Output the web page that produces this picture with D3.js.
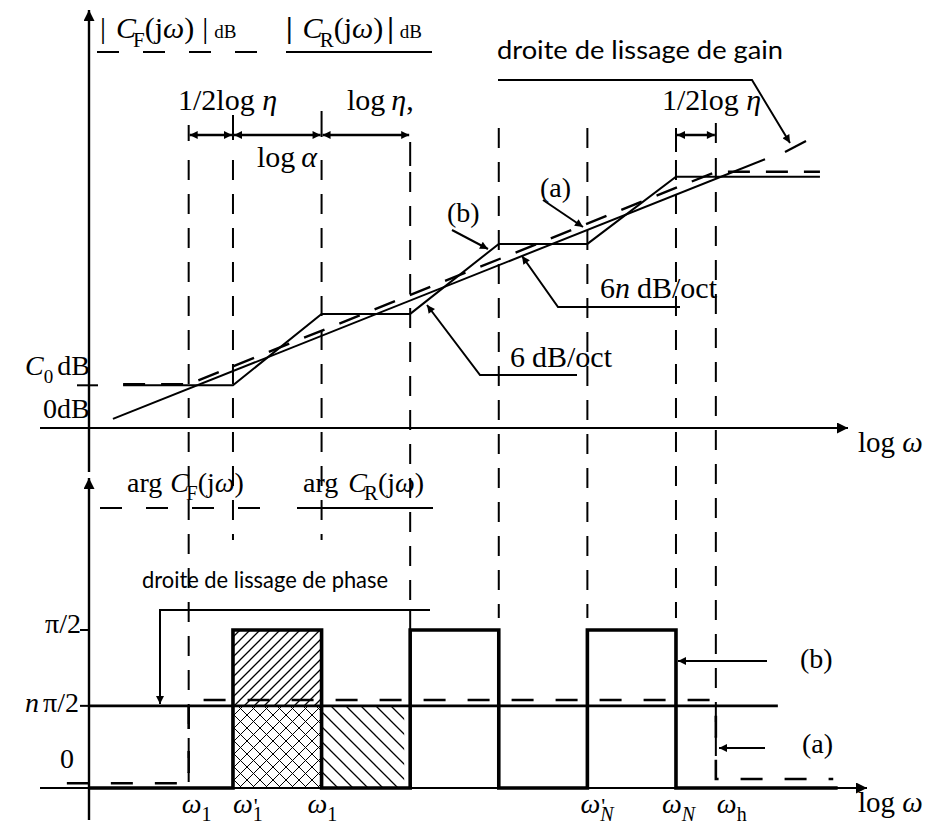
<!DOCTYPE html>
<html><head><meta charset="utf-8">
<script src="https://cdn.jsdelivr.net/npm/d3@7"></script>
<style>body{margin:0;background:#fff}svg{display:block}</style>
</head><body>
<svg id="c" width="931" height="832"></svg>
<script>
// ---------- data (log ω in units of ½·log η, gain in dB-like units, phase in units of π/2)
const breakLogW   = [2.25, 3.25, 5.25, 7.25, 9.25, 11.25, 13.25, 14.15];
const breakLabels = ["ω1", "ω'1", "ω1", "", "", "ω'N", "ωN", "ωh"];
const gainStairB  = [[0.77,6.1],[3.25,6.1],[5.25,16.3],[7.25,16.3],[9.25,26.3],[11.25,26.3],[13.25,35.9],[16.5,35.9]];
const gainSlopeA  = [[0.77,6.25],[2.25,6.25],[14.15,36.6],[16.5,36.6]];
const gainSmooth  = [[0.54,1.3],[15.26,38.4]];
const phaseStairB = [[0,0],[3.25,0],[3.25,1],[5.25,1],[5.25,0],[7.25,0],[7.25,1],[9.25,1],[9.25,0],[11.25,0],[11.25,1],[13.25,1],[13.25,0],[16.9,0]];
const phaseA      = [[-0.5,0.03],[2.25,0.03],[2.25,0.557],[14.15,0.557],[14.15,0.057],[16.8,0.057]];
const phaseSmooth = [[0,0.52],[15.55,0.52]];
const gainC0 = 6.1;
const phaseTicks = [1, 0.52, 0];

const serif = "'Liberation Serif','Times New Roman',serif";
const sans = "Lato,'Open Sans',sans-serif";
const svg = d3.select('#c');

const x  = d3.scaleLinear().domain([0,16]).range([89, 89+16*44.3]);
const yG = d3.scaleLinear().domain([0,40]).range([428,148]);
const yP = d3.scaleLinear().domain([0,1]).range([788,630]);

const defs = svg.append('defs');
function marker(id, w, h){
  defs.append('marker').attr('id',id).attr('viewBox','0 0 10 10').attr('refX',10).attr('refY',5)
    .attr('markerWidth',w).attr('markerHeight',h).attr('markerUnits','userSpaceOnUse')
    .attr('orient','auto-start-reverse')
    .append('path').attr('d','M0,0 L10,5 L0,10 z').attr('fill','#000');
}
marker('axh',18,11); marker('ah',13,8); marker('ahs',11,8);

function pat(id, w, d, sw){
  defs.append('pattern').attr('id',id).attr('patternUnits','userSpaceOnUse').attr('width',w).attr('height',w)
    .append('path').attr('d',d).attr('stroke','#000').attr('stroke-width',sw).attr('fill','none');
}
pat('fwd',10,'M-1,1 L1,-1 M0,10 L10,0 M9,11 L11,9',1.3);
pat('back',15,'M0,0 L15,15 M-1,14 L1,16 M14,-1 L16,1',1.3);
pat('cross',13,'M0,0 L13,13 M0,13 L13,0 M-1,1 L1,-1 M12,14 L14,12 M-1,12 L1,14 M12,-1 L14,1',1);

function line(pts, w, dash){
  const p = svg.append('path').attr('d', d3.line()(pts)).attr('fill','none').attr('stroke','#000')
    .attr('stroke-width', w||2).attr('stroke-linejoin','miter');
  if (dash) p.attr('stroke-dasharray', dash);
  return p;
}
function rich(px, py, parts, fs, fam){
  const t = svg.append('text').attr('x',px).attr('y',py).attr('font-family',fam||serif).attr('font-size',fs).attr('fill','#000');
  let cur = 0;
  parts.forEach(p=>{
    if (typeof p === 'string') p = {t:p};
    const off = p.sub ? fs*0.3 : p.sup ? -fs*0.38 : 0;
    const s = t.append('tspan').text(p.t).attr('dy', off-cur);
    cur = off;
    if (p.i) s.attr('font-style','italic');
    if (p.fs) s.attr('font-size',p.fs);
    if (p.dx!==undefined) s.attr('dx',p.dx);
    if (p.b) s.attr('font-weight','bold');
  });
  return t;
}

// ---------- vertical dashed guide lines
const vSpans = [[160,782],[160,540],[160,540],[172,610],[128,618],[128,618],[160,618],[158,765]];
breakLogW.forEach((v,i)=>{
  line([[x(v),vSpans[i][0]],[x(v),vSpans[i][1]]],2,'20,14');
});

// ---------- gain plot axes
line([[40,yG(0)],[848,yG(0)]],2.2).attr('marker-end','url(#axh)');
line([[89,472],[89,10]],2.4).attr('marker-end','url(#axh)');
line([[77,yG(gainC0)],[98,yG(gainC0)]],2);
rich(858,452,['log ',{t:'ω',i:true}],29);
rich(25,375,[{t:'C',i:true},{t:'0',sub:true,fs:19},{t:'dB',dx:4}],28);
rich(43,418,['0dB'],28);

// ---------- gain curves
const lg = d3.line().x(d=>x(d[0])).y(d=>yG(d[1]));
svg.append('path').attr('d',lg(gainStairB)).attr('fill','none').attr('stroke','#000').attr('stroke-width',2);
svg.append('path').attr('d',lg(gainSmooth)).attr('fill','none').attr('stroke','#000').attr('stroke-width',2);
svg.append('path').attr('d',lg(gainSlopeA)).attr('fill','none').attr('stroke','#000').attr('stroke-width',2.4).attr('stroke-dasharray','22,16');

// ---------- top annotations
rich(100,38,['|',{t:'C',i:true,dx:10},{t:'F',sub:true,fs:21,dx:-3},'(j',{t:'ω',i:true},')',{t:'|',dx:8},{t:'dB',fs:19,dx:6}],30);
line([[97,52],[262,52]],2,'22,24');
rich(286,38,[{t:'|',b:true},{t:'C',i:true,dx:10},{t:'R',sub:true,fs:21,dx:-3},'(j',{t:'ω',i:true},')',{t:'|',b:true,dx:4},{t:'dB',fs:19,dx:6}],30);
line([[286,52],[432,52]],2);

rich(178,110,['1/2log ',{t:'η',i:true}],30);
rich(347,110,['log',{t:'η',i:true,dx:6},','],30);
rich(257,167,['log',{t:'α',i:true,dx:6}],30);
// double arrows
[[0,1],[1,2],[2,3]].forEach(([a,b])=>{
  line([[x(breakLogW[a])+1,135],[x(breakLogW[b])-1,135]],2.6).attr('marker-start','url(#ahs)').attr('marker-end','url(#ahs)');
});
line([[x(breakLogW[0]),125],[x(breakLogW[0]),141]],2);
line([[x(breakLogW[1]),115],[x(breakLogW[1]),140]],2);
line([[x(breakLogW[2]),111],[x(breakLogW[2]),137]],2);
line([[x(breakLogW[3]),142],[x(breakLogW[3]),166]],2);

rich(662,110,['1/2log ',{t:'η',i:true}],30);
line([[x(breakLogW[6])+1,135],[x(breakLogW[7])-1,135]],2.6).attr('marker-start','url(#ahs)').attr('marker-end','url(#ahs)');
line([[x(breakLogW[6]),128],[x(breakLogW[6]),152]],2);
line([[x(breakLogW[7]),123],[x(breakLogW[7]),143]],2);

svg.append('text').attr('x',497).attr('y',59).attr('font-family',sans).attr('font-size',25)
  .attr('textLength',286).attr('lengthAdjust','spacingAndGlyphs').text('droite  de lissage de gain');
line([[498,80],[752,80],[790,143]],2).attr('marker-end','url(#ah)');
line([[785,152],[806,141]],2.2);

rich(447,222,['(b)'],28);
line([[452,230],[488,249]],2).attr('marker-end','url(#ah)');
rich(540,197,['(a)'],28);
line([[543,200],[583,227]],2).attr('marker-end','url(#ah)');
rich(600,298,['6',{t:'n',i:true},{t:'dB/oct',dx:7}],30);
line([[680,307],[558,307],[522,256]],2).attr('marker-end','url(#ah)');
rich(510,367,['6',{t:'dB/oct',dx:7}],30);
line([[577,375],[480,375],[427,305]],2).attr('marker-end','url(#ah)');

// ---------- phase plot
line([[40,yP(0)],[867,yP(0)]],2.2).attr('marker-end','url(#axh)');
line([[89,820],[89,478]],2.4).attr('marker-end','url(#axh)');
rich(858,812,['log ',{t:'ω',i:true}],29);
phaseTicks.forEach((v,i)=>{ if(i<2) line([[80,yP(v)],[89,yP(v)]],2); });
rich(45,yP(phaseTicks[0])+3,['π/2'],28);
rich(25,yP(phaseTicks[1])+6,[{t:'n',i:true},{t:'π/2',dx:4}],28);
rich(60,yP(phaseTicks[2])-20,['0'],28);

// hatching
svg.append('rect').attr('x',x(3.25)).attr('y',yP(1)).attr('width',x(5.25)-x(3.25)).attr('height',yP(0.52)-yP(1)).attr('fill','url(#fwd)');
svg.append('rect').attr('x',x(3.25)).attr('y',yP(0.52)).attr('width',x(5.25)-x(3.25)).attr('height',yP(0)-yP(0.52)).attr('fill','url(#cross)');
svg.append('rect').attr('x',x(5.25)).attr('y',yP(0.52)).attr('width',x(7.25)-x(5.25)-6).attr('height',yP(0)-yP(0.52)).attr('fill','url(#back)');

const lp = d3.line().x(d=>x(d[0])).y(d=>yP(d[1]));
svg.append('path').attr('d',lp(phaseSmooth)).attr('fill','none').attr('stroke','#000').attr('stroke-width',2.6);
svg.append('path').attr('d',lp(phaseA)).attr('fill','none').attr('stroke','#000').attr('stroke-width',2.6).attr('stroke-dasharray','22,22');
svg.append('path').attr('d',lp(phaseStairB)).attr('fill','none').attr('stroke','#000').attr('stroke-width',3.6).attr('stroke-linejoin','miter');

rich(127,492,['arg',{t:'C',i:true,dx:8},{t:'F',sub:true,fs:21,dx:-3},'(j',{t:'ω',i:true},')'],28);
line([[100,508],[262,508]],2,'22,24');
rich(303,492,['arg',{t:'C',i:true,dx:10},{t:'R',sub:true,fs:21,dx:-3},'(j',{t:'ω',i:true},')'],28);
line([[297,508],[433,508]],2);

svg.append('text').attr('x',142).attr('y',588).attr('font-family',sans).attr('font-size',23)
  .attr('textLength',246).attr('lengthAdjust','spacingAndGlyphs').text('droite  de lissage de phase');
line([[430,610],[160,610],[160,704]],2).attr('marker-end','url(#ah)');
line([[x(7.25),610],[x(7.25),630]],2);

rich(800,668,['(b)'],28);
line([[767,661],[678,661]],2).attr('marker-end','url(#ah)');
rich(802,753,['(a)'],28);
line([[765,748],[719,748]],2).attr('marker-end','url(#ah)');

// breakpoint labels
const labOff = [-7,0,-14,0,0,-7,-14,1];
breakLabels.forEach((lab,i)=>{
  if(!lab) return;
  const px = x(breakLogW[i])+labOff[i];
  const prime = lab.includes("'");
  const sub = lab.slice(-1);
  const parts = [{t:'ω',i:true}];
  if (prime) { parts.push({t:"'",fs:22,dx:1}); parts.push({t:sub,sub:true,fs:20,dx:-5,i:sub==='N'}); }
  else parts.push({t:sub,sub:true,fs:20,i:sub==='N'});
  rich(px,813,parts,28);
});
</script></body></html>
